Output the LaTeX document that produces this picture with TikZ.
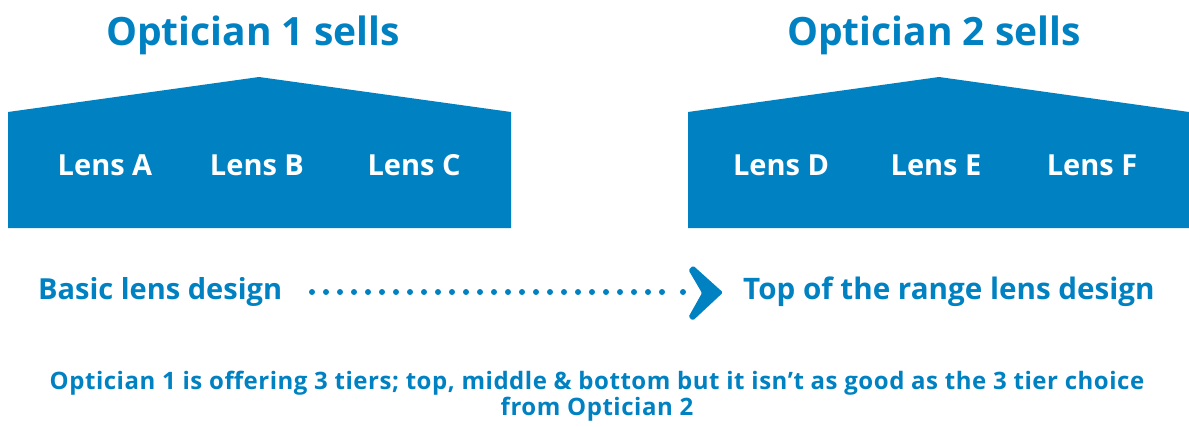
\documentclass[tikz,border=0pt]{standalone}
\usepackage{fontspec}
\setmainfont{Open Sans}[BoldFont={* Bold}]
\newfontfamily\notefont{Open Sans}[UprightFont={* Bold},LetterSpace=2.2]
\definecolor{brandblue}{HTML}{0081C2}
\begin{document}
\begin{tikzpicture}[x=1pt,y=-1pt,
  title/.style={text=brandblue,font=\fontsize{39}{44}\selectfont\bfseries,inner sep=0pt},
  lens/.style={text=white,font=\fontsize{29}{34}\selectfont\bfseries,inner sep=0pt},
  scale label/.style={text=brandblue,font=\fontsize{29}{34}\selectfont\bfseries,inner sep=0pt},
  note/.style={text=brandblue,font=\fontsize{24}{26}\notefont,align=center,inner sep=0pt},
  house/.style={fill=brandblue,draw=none},
  dotline/.style={brandblue,line width=6pt,line cap=round,dash pattern=on 0pt off 14pt}]
\useasboundingbox (0,0) rectangle (1189,426);

% two house-shaped panels
\path[house] (8,228) -- (8,112) -- (259,77) -- (511,112) -- (511,228) -- cycle;
\path[house] (688,228) -- (688,112) -- (939,77) -- (1189,112) -- (1189,228) -- cycle;

% headings
\node[title] (title1) at (253,35) {Optician 1 sells};
\node[title] (title2) at (934,35) {Optician 2 sells};

% lens labels
\node[lens] (lensA) at (105,165) {Lens A};
\node[lens] (lensB) at (257,165) {Lens B};
\node[lens] (lensC) at (414,165) {Lens C};
\node[lens] (lensD) at (781,165) {Lens D};
\node[lens] (lensE) at (936,165) {Lens E};
\node[lens] (lensF) at (1092,165) {Lens F};

% scale from basic to premium
\node[scale label,anchor=west] (basic) at (38,292) {Basic lens design};
\node[scale label,anchor=west,font=\fontsize{29.6}{34}\selectfont\bfseries] (premium) at (743,292) {Top of the range lens design};
\coordinate (dotstart) at (312,292);
\coordinate (dotend) at (676,292);
\coordinate (lastdot) at (683,292);
\coordinate (tip) at (723,292.5);
\draw[dotline] (dotstart) -- (dotend);
\fill[brandblue] (lastdot) circle[radius=3pt];
\fill[brandblue,rounded corners=1.5pt] (688.5,270) -- (693,265.5) -- (tip) -- (693,320.5) -- (688.5,317) -- (702,293) -- cycle;

% footnote
\node[note] (note) at (597,396) {Optician 1 is offering 3 tiers; top, middle \& bottom but it isn’t as good as the 3 tier choice\\from Optician 2};
\end{tikzpicture}
\end{document}
